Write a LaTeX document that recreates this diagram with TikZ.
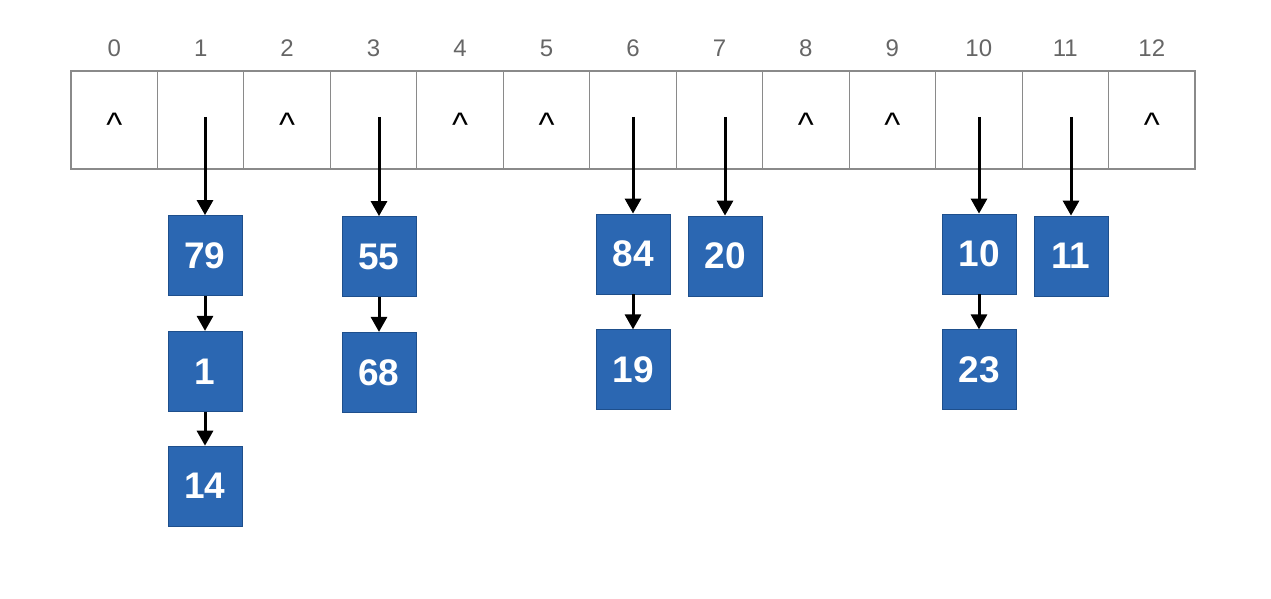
\documentclass[tikz,border=0pt]{standalone}
\usepackage{fontspec}
\setmainfont{Liberation Sans}
\usepackage{tikz}
\usetikzlibrary{arrows.meta,positioning}
\usepackage{xcolor}
\definecolor{boxblue}{HTML}{2B67B2}
\definecolor{boxedge}{HTML}{1E4F8C}
\definecolor{cellgray}{HTML}{8A8A8A}
\definecolor{idxgray}{HTML}{666666}

\begin{document}
\begin{tikzpicture}[
  x=1pt,y=-1pt,
  line/.style={-{Triangle[width=16pt,length=15pt]},line width=3pt,draw=black},
  cell/.style={draw=cellgray,line width=1.1pt,minimum width=86.46pt,
               minimum height=98pt,inner sep=0pt},
  idx/.style={text=idxgray,font=\fontsize{24}{26}\selectfont},
  caret/.style={anchor=base,font=\fontsize{34}{36}\selectfont,text=black},
  item/.style={draw=boxedge,line width=0.8pt,fill=boxblue,text=white,
               minimum width=74pt,minimum height=80pt,inner sep=0pt,
               font=\fontsize{37}{39}\selectfont\bfseries}
]
\useasboundingbox (0,0) rectangle (1271,599);

% the table
\foreach \i in {0,...,12}{
  \node[cell] (c\i) at ({71+86.46*(\i+0.5)},120) {};
  \node[idx] (i\i) at ({71+86.46*(\i+0.5)},48) {\i};
}
\foreach \i in {0,2,4,5,8,9,12}{
  \node[caret] (n\i) at ([yshift=-16pt]c\i.center) {\textasciicircum};
}

% the chains
\node[item] (b79) at (205,255.5) {79};
\node[item,below=35pt of b79] (b1) {1};
\node[item,below=34pt of b1] (b14) {14};
\node[item] (b55) at (379,256.5) {55};
\node[item,below=35pt of b55] (b68) {68};
\node[item] (b84) at (633,254) {84};
\node[item,below=35pt of b84] (b19) {19};
\node[item] (b20) at (725,256) {20};
\node[item] (b10) at (979,254) {10};
\node[item,below=35pt of b10] (b23) {23};
\node[item] (b11) at (1071,256) {11};

\draw[line] ([yshift=3pt]b79.north |- c1.center) -- (b79.north);
\draw[line] ([yshift=3pt]b55.north |- c3.center) -- (b55.north);
\draw[line] ([yshift=3pt]b84.north |- c6.center) -- (b84.north);
\draw[line] ([yshift=3pt]b20.north |- c7.center) -- (b20.north);
\draw[line] ([yshift=3pt]b10.north |- c10.center) -- (b10.north);
\draw[line] ([yshift=3pt]b11.north |- c11.center) -- (b11.north);
\draw[line] (b79) -- (b1);
\draw[line] (b1) -- (b14);
\draw[line] (b55) -- (b68);
\draw[line] (b84) -- (b19);
\draw[line] (b10) -- (b23);
\end{tikzpicture}
\end{document}
